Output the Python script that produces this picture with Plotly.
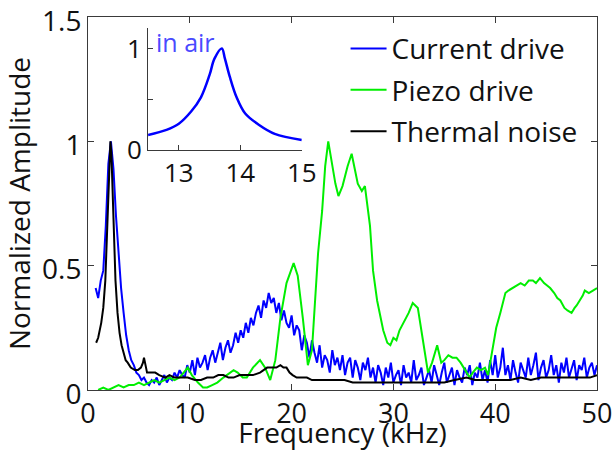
import plotly.graph_objects as go

# ---------------- data ----------------
# Current drive (blue) sampled every 0.25 kHz starting at 0.75 kHz
blue_start = 0.75
blue_step = 0.25
blue_y = [
    0.41, 0.37, 0.44, 0.48, 0.66, 0.91, 1.00, 0.89,
    0.70, 0.53, 0.41, 0.31, 0.22, 0.16, 0.12, 0.10,
    0.07, 0.06, 0.04, 0.05, 0.03, 0.02, 0.04, 0.03,
    0.05, 0.02, 0.04, 0.06, 0.03, 0.05, 0.04, 0.07,
    0.05, 0.08, 0.06, 0.05, 0.10, 0.07, 0.12, 0.06,
    0.13, 0.09, 0.11, 0.14, 0.08, 0.13, 0.16, 0.11,
    0.15, 0.19, 0.12, 0.17, 0.20, 0.15, 0.18, 0.23,
    0.19, 0.24, 0.21, 0.27, 0.23, 0.29, 0.26, 0.31,
    0.34, 0.29, 0.36, 0.33, 0.39, 0.35, 0.37, 0.31,
    0.35, 0.28, 0.32, 0.27, 0.25, 0.30, 0.22, 0.26,
    0.24, 0.16, 0.22, 0.19, 0.13, 0.20, 0.15, 0.11,
    0.18, 0.09, 0.14, 0.12, 0.07, 0.16, 0.10, 0.13,
    0.08, 0.14, 0.06, 0.11, 0.13, 0.05, 0.12, 0.09,
    0.04, 0.11, 0.08, 0.13, 0.05, 0.09, 0.03, 0.10,
    0.07, 0.02, 0.09, 0.05, 0.11, 0.03, 0.06, 0.08,
    0.02, 0.10, 0.05, 0.07, 0.03, 0.12, 0.04, 0.06,
    0.09, 0.02, 0.05, 0.08, 0.03, 0.10, 0.06, 0.02,
    0.07, 0.11, 0.03, 0.06, 0.09, 0.02, 0.08, 0.05,
    0.03, 0.09, 0.06, 0.10, 0.02, 0.07, 0.05, 0.11,
    0.04, 0.08, 0.03, 0.12, 0.06, 0.14, 0.05, 0.09,
    0.17, 0.06, 0.10, 0.04, 0.12, 0.07, 0.03, 0.11,
    0.08, 0.05, 0.13, 0.06, 0.10, 0.15, 0.04, 0.09,
    0.12, 0.05, 0.08, 0.14, 0.06, 0.10, 0.03, 0.11,
    0.07, 0.13, 0.05, 0.09, 0.12, 0.04, 0.10, 0.08,
    0.13, 0.05, 0.09, 0.11, 0.06, 0.10,
]
blue_x = [round(blue_start + blue_step * i, 2) for i in range(len(blue_y))]

# Piezo drive (green)
green_x = [1.0, 1.5, 2.0, 2.5, 3.0, 3.5, 4.0, 4.5, 5.0, 5.5, 6.0, 6.5, 7.0, 7.5, 8.0, 8.5,
           9.0, 9.4, 9.8, 10.2, 10.8, 11.3, 11.7, 12.2, 12.7, 13.3, 13.9, 14.3, 14.7, 15.2,
           15.6, 16.2, 16.9, 17.4, 17.9, 18.4, 18.9, 19.5, 20.2, 20.6, 21.1, 21.6, 22.0,
           22.3, 22.6, 23.0, 23.3, 23.6, 23.9, 24.3, 24.6, 25.0, 25.5, 25.9, 26.2, 26.5,
           26.9, 27.2, 27.7, 28.0, 28.4, 29.0, 29.4, 29.7, 30.0, 30.3, 30.6, 31.0, 31.5,
           31.9, 32.4, 32.9, 33.4, 33.8, 34.3, 34.7, 35.0, 35.4, 35.8, 36.2, 36.6, 36.9,
           37.2, 37.5, 37.8, 38.2, 38.6, 39.0, 39.3, 39.8, 40.1, 40.5, 41.0, 41.3, 41.7,
           42.1, 42.5, 42.9, 43.3, 43.7, 44.0, 44.4, 44.8, 45.1, 45.4, 45.8, 46.1, 46.4,
           46.8, 47.1, 47.5, 47.8, 48.0, 48.3, 48.6, 48.8, 49.2, 49.6, 50.0]
green_y = [0.00, 0.01, 0.00, 0.01, 0.02, 0.01, 0.02, 0.02, 0.03, 0.02, 0.03, 0.04, 0.03, 0.04, 0.05, 0.04,
           0.05, 0.07, 0.09, 0.06, 0.03, 0.01, 0.01, 0.02, 0.03, 0.05, 0.07, 0.08, 0.07, 0.05,
           0.05, 0.09, 0.12, 0.09, 0.04, 0.12, 0.29, 0.43, 0.51, 0.46, 0.29, 0.10, 0.16,
           0.36, 0.55, 0.72, 0.90, 1.00, 0.92, 0.83, 0.78, 0.82, 0.90, 0.95, 0.89, 0.83,
           0.80, 0.82, 0.66, 0.48, 0.36, 0.24, 0.19, 0.18, 0.21, 0.20, 0.24, 0.27, 0.31,
           0.35, 0.33, 0.20, 0.07, 0.11, 0.18, 0.11, 0.12, 0.14, 0.13, 0.13, 0.11, 0.09,
           0.07, 0.05, 0.07, 0.09, 0.08, 0.09, 0.06, 0.17, 0.25, 0.31, 0.39, 0.40, 0.41,
           0.42, 0.43, 0.42, 0.44, 0.44, 0.43, 0.45, 0.43, 0.42, 0.41, 0.39, 0.37, 0.36,
           0.33, 0.32, 0.31, 0.33, 0.34, 0.36, 0.38, 0.40, 0.39, 0.40, 0.41]

# Thermal noise (black)
black_x = [0.8, 1.0, 1.3, 1.5, 1.7, 1.9, 2.0, 2.1, 2.2, 2.3, 2.4, 2.55, 2.7, 2.9, 3.1, 3.3, 3.5,
           3.7, 3.9, 4.2, 4.6, 4.9, 5.2, 5.4, 5.5, 5.6, 5.8, 6.2, 6.6, 7.0, 7.6, 8.0, 8.5, 9.0,
           9.8, 10.5, 11.1, 11.7, 12.3, 12.8, 13.3, 13.8, 14.3, 14.9, 15.6, 16.2, 16.9, 17.3,
           17.6, 18.0, 18.5, 18.9, 19.2, 19.5, 19.8, 20.1, 20.5, 21.0, 21.5, 22.0, 22.7, 23.3,
           23.8, 24.5, 25.2, 26.0, 27.0, 28.0, 29.0, 30.0, 31.0, 32.0, 33.0, 34.0, 35.0, 36.0,
           37.2, 38.0, 39.0, 40.0, 40.8, 41.5, 42.5, 43.5, 44.5, 45.7, 46.5, 47.5, 48.5, 49.3, 50.0]
black_y = [0.19, 0.21, 0.27, 0.33, 0.44, 0.65, 0.82, 0.93, 1.00, 0.95, 0.82, 0.62, 0.44, 0.31, 0.23, 0.18, 0.15,
           0.12, 0.11, 0.09, 0.08, 0.08, 0.09, 0.11, 0.13, 0.11, 0.07, 0.07, 0.07, 0.06, 0.05, 0.06, 0.05, 0.05,
           0.05, 0.04, 0.04, 0.05, 0.05, 0.06, 0.06, 0.05, 0.05, 0.06, 0.06, 0.06, 0.07, 0.08,
           0.09, 0.09, 0.09, 0.10, 0.09, 0.09, 0.07, 0.06, 0.05, 0.05, 0.05, 0.04, 0.04, 0.04,
           0.04, 0.04, 0.04, 0.03, 0.03, 0.03, 0.03, 0.03, 0.03, 0.03, 0.03, 0.03, 0.03, 0.04,
           0.05, 0.04, 0.04, 0.04, 0.04, 0.04, 0.05, 0.04, 0.05, 0.05, 0.05, 0.05, 0.05, 0.05, 0.06]

# Inset: in-air resonance
inset_x = [12.50, 12.80, 13.00, 13.20, 13.36, 13.50, 13.58, 13.70, 13.75, 13.83, 13.94, 14.08, 14.30, 14.56, 15.00]
inset_y = [0.15, 0.20, 0.26, 0.38, 0.52, 0.74, 0.90, 1.00, 0.90, 0.72, 0.52, 0.36, 0.25, 0.16, 0.10]

main_xticks = [0, 10, 20, 30, 40, 50]
main_yticks = [0, 0.5, 1, 1.5]
main_yticktext = ["0", "0.5", "1", "1.5"]
inset_xticks = [13, 14, 15]
inset_yticks = [0, 0.5, 1]
inset_yticktext = ["0", "", "1"]

FONT = "Open Sans"
AX = "#3a3a3a"
FS = 28

fig = go.Figure()
fig.add_trace(go.Scatter(x=blue_x, y=blue_y, mode="lines", name="Current drive",
                         line=dict(color="#0000ff", width=2), legendgroup="a"))
fig.add_trace(go.Scatter(x=green_x, y=green_y, mode="lines", name="Piezo drive",
                         line=dict(color="#00ee00", width=2), legendgroup="b"))
fig.add_trace(go.Scatter(x=black_x, y=black_y, mode="lines", name="Thermal noise",
                         line=dict(color="#000000", width=2), legendgroup="c"))
fig.add_trace(go.Scatter(x=inset_x, y=inset_y, mode="lines", name="in air", showlegend=False,
                         line=dict(color="#0000ff", width=2.5, shape="spline"),
                         xaxis="x2", yaxis="y2"))

fig.update_layout(
    width=615, height=451,
    margin=dict(l=88, r=18, t=17, b=61, autoexpand=False),
    paper_bgcolor="white", plot_bgcolor="white",
    font=dict(family=FONT, size=FS, color="#111"),
    showlegend=True,
    legend=dict(x=0.506, y=0.982, xanchor="left", yanchor="top",
                bgcolor="rgba(0,0,0,0)", borderwidth=0,
                font=dict(size=FS, family=FONT, color="#111"),
                tracegroupgap=2, traceorder="grouped", itemwidth=36),
    xaxis=dict(range=[0, 50], tickvals=main_xticks, ticks="inside", ticklen=6,
               tickcolor=AX, showline=True, linecolor=AX, linewidth=1, mirror="ticks",
               showgrid=False, zeroline=False, ticklabeloverflow="allow", automargin=False,
               title=dict(text="Frequency (kHz)", standoff=0, font=dict(size=FS)),
               tickfont=dict(size=27)),
    yaxis=dict(range=[0, 1.5], tickvals=main_yticks, ticktext=main_yticktext,
               ticks="inside", ticklen=6, tickcolor=AX, showline=True, linecolor=AX,
               linewidth=1, mirror="ticks", showgrid=False, zeroline=False,
               ticklabeloverflow="allow", automargin=False, ticklabelshift=4,
               title=dict(text="Normalized Amplitude", standoff=8, font=dict(size=FS)),
               tickfont=dict(size=FS)),
    xaxis2=dict(domain=[0.118, 0.420], anchor="y2", range=[12.5, 15], tickvals=inset_xticks,
                ticks="inside", ticklen=5, tickcolor=AX, showline=True, linecolor=AX,
                linewidth=1, showgrid=False, zeroline=False, tickfont=dict(size=26),
                ticklabeloverflow="allow", automargin=False),
    yaxis2=dict(domain=[0.643, 0.970], anchor="x2", range=[0, 1.2], tickvals=inset_yticks,
                ticktext=inset_yticktext, ticks="inside", ticklen=5, tickcolor=AX,
                showline=True, linecolor=AX, linewidth=1, showgrid=False, zeroline=False,
                tickfont=dict(size=26), ticklabeloverflow="allow", automargin=False),
    annotations=[dict(text="in air", x=12.6, y=1.06, xref="x2", yref="y2",
                      xanchor="left", yanchor="middle", showarrow=False,
                      font=dict(size=25, family=FONT, color="#4a4aff"))],
)

fig.write_html("out.html")
